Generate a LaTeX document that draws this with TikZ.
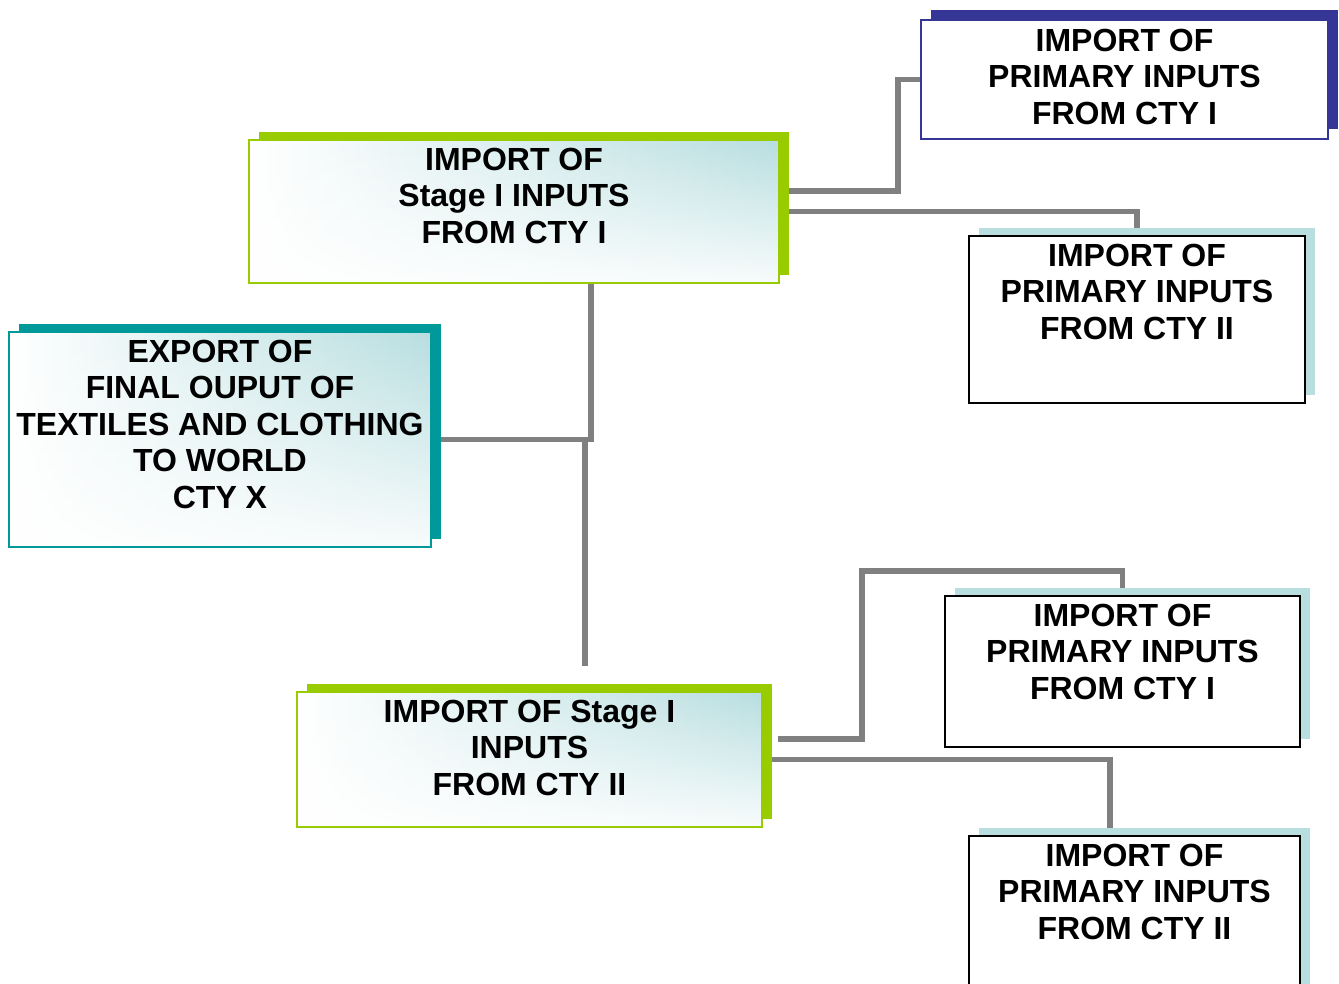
\documentclass[tikz,border=0pt]{standalone}
\usepackage{fontspec}
\setmainfont{Liberation Sans}
\usetikzlibrary{positioning}
\usetikzlibrary{shadows}
\usetikzlibrary{fadings}
\usetikzlibrary{backgrounds}
\definecolor{leafgreen}{HTML}{99CC00}
\definecolor{deepteal}{HTML}{009999}
\definecolor{inkblue}{HTML}{363696}
\definecolor{paleteal}{HTML}{B8DEE0}
\definecolor{linkgray}{HTML}{808080}

\begin{document}
\begin{tikzpicture}[x=1pt,y=-1pt]
\tikzstyle{box}=[rectangle, inner sep=0pt, line width=2pt]
\tikzstyle{fade}=[left color=white, right color=paleteal, middle color=white!50!paleteal, postaction={fill=white, fill opacity=0.9, path fading=north}]
\tikzstyle{stagebox}=[box, fade, postaction={draw=leafgreen, line width=2pt}, general shadow={fill=leafgreen, shadow xshift=10pt, shadow yshift=8pt}]
\tikzstyle{exportbox}=[box, fade, postaction={draw=deepteal, line width=2pt}, general shadow={fill=deepteal, shadow xshift=10pt, shadow yshift=8pt}]
\tikzstyle{bluebox}=[box, fill=white, draw=inkblue, general shadow={fill=inkblue, shadow xshift=10pt, shadow yshift=10pt}]
\tikzstyle{primbox}=[box, fill=white, draw=black, general shadow={fill=paleteal, shadow xshift=10pt, shadow yshift=8pt}]
\tikzstyle{txt}=[inner sep=0pt, align=center, font=\fontsize{32}{36.5}\selectfont\bfseries]
\tikzstyle{link}=[draw=linkgray, line width=5.5pt]

\clip (0,0) rectangle (1339,983);

% boxes
\node[stagebox, minimum width=530, minimum height=143] (s1) at (514,211.5) {};
\node[bluebox, minimum width=407, minimum height=119] (p1) at (1124.5,79.5) {};
\node[primbox, minimum width=336, minimum height=167] (p2) at (1137,319.5) {};
\node[exportbox, minimum width=422, minimum height=215] (e) at (220,439.5) {};
\node[primbox, minimum width=355, minimum height=151] (p3) at (1122.5,671.5) {};
\node[stagebox, minimum width=465, minimum height=135] (s2) at (529.5,759.5) {};
\node[primbox, minimum width=331, minimum height=164] (p4) at (1134.5,918) {};

% texts
\node[txt, below=8.5pt of s1.north] (s1t) {IMPORT OF\\Stage I INPUTS\\FROM CTY I};
\node[txt, below=9.5pt of p1.north] (p1t) {IMPORT OF\\PRIMARY INPUTS\\FROM CTY I};
\node[txt, below=8.5pt of p2.north] (p2t) {IMPORT OF\\PRIMARY INPUTS\\FROM CTY II};
\node[txt, below=8.5pt of e.north] (et) {EXPORT OF\\FINAL OUPUT OF\\TEXTILES AND CLOTHING\\TO WORLD\\CTY X};
\node[txt, below=8.5pt of p3.north] (p3t) {IMPORT OF\\PRIMARY INPUTS\\FROM CTY I};
\node[txt, below=8.5pt of s2.north] (s2t) {IMPORT OF Stage I\\INPUTS\\FROM CTY II};
\node[txt, below=8.5pt of p4.north] (p4t) {IMPORT OF\\PRIMARY INPUTS\\FROM CTY II};

% connectors
\coordinate (gap) at ([xshift=55.5pt,yshift=25pt]s2.north);
\begin{scope}[on background layer]
\draw[link] ([yshift=20.5pt]s1.east) -- ++(118,0) |- (p1.west);
\draw[link] (s1.east) -| (p2.north);
\draw[link] ([xshift=77pt]s1.south) |- (e.east);
\draw[link] (gap |- e.east) -- (gap);
\draw[link] ([xshift=15pt,yshift=20.5pt]s2.east) -- ++(84,0) |- ([yshift=24pt]p3.north) -- (p3.north);
\draw[link] (s2.east) -| ([xshift=-24.5pt]p4.north);
\end{scope}
\end{tikzpicture}
\end{document}
